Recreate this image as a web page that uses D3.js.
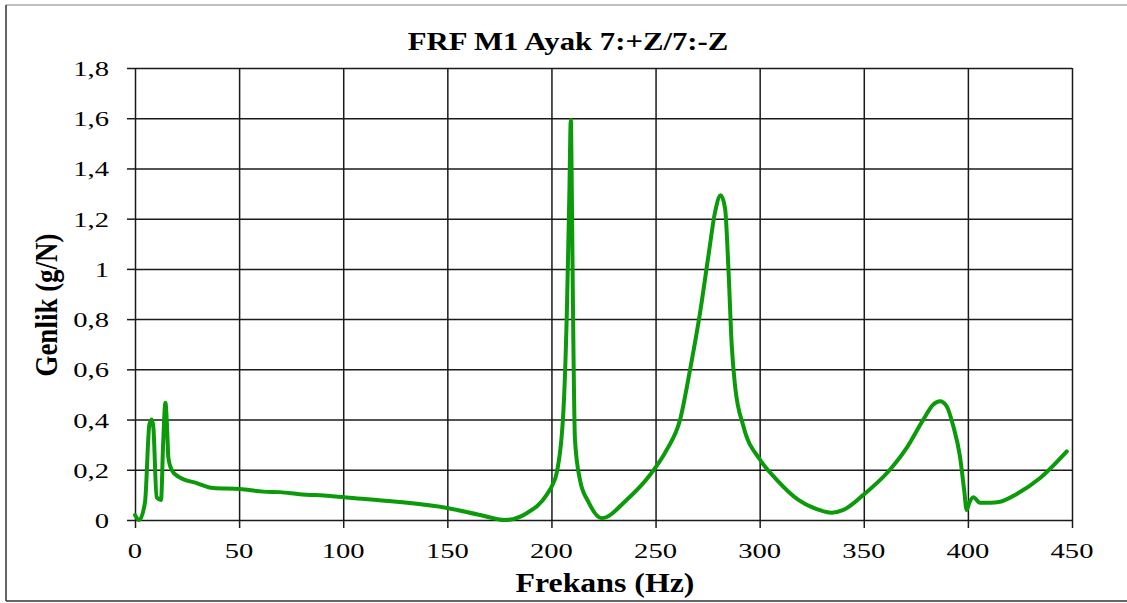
<!DOCTYPE html>
<html>
<head>
<meta charset="utf-8">
<script src="https://cdn.jsdelivr.net/npm/d3@7"></script>
<style>
  html, body { margin: 0; padding: 0; background: #fff; }
  svg { display: block; }
  svg text { font-family: "Liberation Serif", "DejaVu Serif", serif; fill: #000; }
</style>
</head>
<body>
<svg id="chart" width="1127" height="603"></svg>
<script>
// Frequency response: frequency (Hz) and amplitude (g/N)
const frekans = [0, 2, 4.8, 6.9, 8, 8.8, 10.4, 12.5, 13.5, 14.6, 15.5, 16, 17.6, 20.8, 29.6, 37.6, 50.4, 61.6, 69.6, 79, 93.7, 103, 125.7, 150.5, 165.7, 177.7, 188.1, 197.7, 200.9, 202.5, 205.7, 207.4, 208.6, 209.3, 209.8, 210.2, 211.3, 213.7, 217.7, 224.1, 236.1, 247.4, 255.4, 261.8, 266.6, 271.4, 275.4, 278.6, 281.3, 283.4, 285, 286.6, 288.2, 292.2, 300.2, 308.2, 318.6, 327.4, 334.6, 340.2, 349.8, 361.8, 370.6, 378.6, 383.4, 386.6, 389.8, 393, 396.2, 398.2, 399.4, 400.7, 402.6, 405.8, 410.7, 415.5, 423.5, 434.7, 447.5];
const genlik = [0.02, 0.0, 0.07, 0.38, 0.40, 0.37, 0.09, 0.08, 0.30, 0.467, 0.35, 0.25, 0.20, 0.173, 0.147, 0.127, 0.123, 0.113, 0.111, 0.103, 0.096, 0.089, 0.073, 0.047, 0.02, 0.0, 0.027, 0.10, 0.147, 0.187, 0.427, 0.827, 1.30, 1.593, 1.30, 0.96, 0.32, 0.16, 0.073, 0.007, 0.08, 0.18, 0.28, 0.40, 0.60, 0.827, 1.053, 1.227, 1.293, 1.24, 1.0, 0.693, 0.533, 0.373, 0.24, 0.16, 0.08, 0.043, 0.029, 0.04, 0.10, 0.193, 0.287, 0.40, 0.46, 0.473, 0.453, 0.373, 0.253, 0.12, 0.04, 0.069, 0.091, 0.069, 0.069, 0.073, 0.104, 0.167, 0.273];
const xTicks = [0, 50, 100, 150, 200, 250, 300, 350, 400, 450];
const yTicks = [0, 0.2, 0.4, 0.6, 0.8, 1.0, 1.2, 1.4, 1.6, 1.8];

const svg = d3.select("#chart");
const W = 1127, H = 603;
const plot = { left: 135, right: 1072, top: 68, bottom: 520 };

// outer frame (top, left, bottom edges)
svg.append("line").attr("x1", 6).attr("x2", W).attr("y1", 5).attr("y2", 5)
  .attr("stroke", "#aaa").attr("stroke-width", 1.5);
svg.append("line").attr("x1", 6).attr("x2", 6).attr("y1", 5).attr("y2", 601)
  .attr("stroke", "#333").attr("stroke-width", 1.5);
svg.append("line").attr("x1", 6).attr("x2", W).attr("y1", 601).attr("y2", 601)
  .attr("stroke", "#333").attr("stroke-width", 1.5);

const x = d3.scaleLinear().domain([0, 450]).range([plot.left, plot.right]);
const y = d3.scaleLinear().domain([0, 1.8]).range([plot.bottom, plot.top]);

const comma = v => d3.format("~g")(+v.toFixed(1)).replace(".", ",");
const gridColor = "#1a1a1a";

// grid lines with outside tick marks
const gx = svg.append("g").attr("transform", `translate(0,${plot.bottom})`)
  .call(d3.axisBottom(x).tickValues(xTicks).tickSize(-(plot.bottom - plot.top)).tickSizeOuter(0).tickFormat(""));
gx.select(".domain").remove();
gx.selectAll(".tick line").attr("stroke", gridColor).attr("stroke-width", 1.5);
gx.selectAll(".tick").append("line").attr("y1", 0).attr("y2", 8)
  .attr("stroke", gridColor).attr("stroke-width", 1.5);

const gy = svg.append("g").attr("transform", `translate(${plot.left},0)`)
  .call(d3.axisLeft(y).tickValues(yTicks).tickSize(-(plot.right - plot.left)).tickSizeOuter(0).tickFormat(""));
gy.select(".domain").remove();
gy.selectAll(".tick line").attr("stroke", gridColor).attr("stroke-width", 1.5);
gy.selectAll(".tick").append("line").attr("x1", 0).attr("x2", -8)
  .attr("stroke", gridColor).attr("stroke-width", 1.5);

// text is drawn slightly widened horizontally
const wide = 1.3;

// tick labels
svg.append("g").selectAll("text").data(xTicks).join("text")
  .attr("transform", d => `translate(${x(d)},558) scale(${wide},1)`)
  .attr("text-anchor", "middle")
  .style("font-size", "22px")
  .text(d => d);

svg.append("g").selectAll("text").data(yTicks).join("text")
  .attr("transform", d => `translate(109,${y(d) + 8}) scale(${wide},1)`)
  .attr("text-anchor", "end")
  .style("font-size", "22px")
  .text(d => comma(d));

// response curve
const pts = frekans.map((f, i) => [f, genlik[i]]);
svg.append("path").datum(pts)
  .attr("fill", "none").attr("stroke", "#0a9a0a").attr("stroke-width", 4)
  .attr("stroke-linejoin", "round").attr("stroke-linecap", "round")
  .attr("d", d3.line().x(d => x(d[0])).y(d => y(d[1])).curve(d3.curveMonotoneX));

// title and axis titles
svg.append("text").attr("transform", `translate(568,50) scale(1.23,1)`).attr("text-anchor", "middle")
  .style("font-weight", "bold").style("font-size", "25px")
  .text("FRF M1 Ayak 7:+Z/7:-Z");

svg.append("text").attr("transform", `translate(605,592) scale(1.18,1)`).attr("text-anchor", "middle")
  .style("font-weight", "bold").style("font-size", "27px")
  .text("Frekans (Hz)");

svg.append("text").attr("transform", "translate(57,305) scale(1.2,1) rotate(-90)").attr("text-anchor", "middle")
  .style("font-weight", "bold").style("font-size", "27px")
  .text("Genlik (g/N)");
</script>
</body>
</html>
